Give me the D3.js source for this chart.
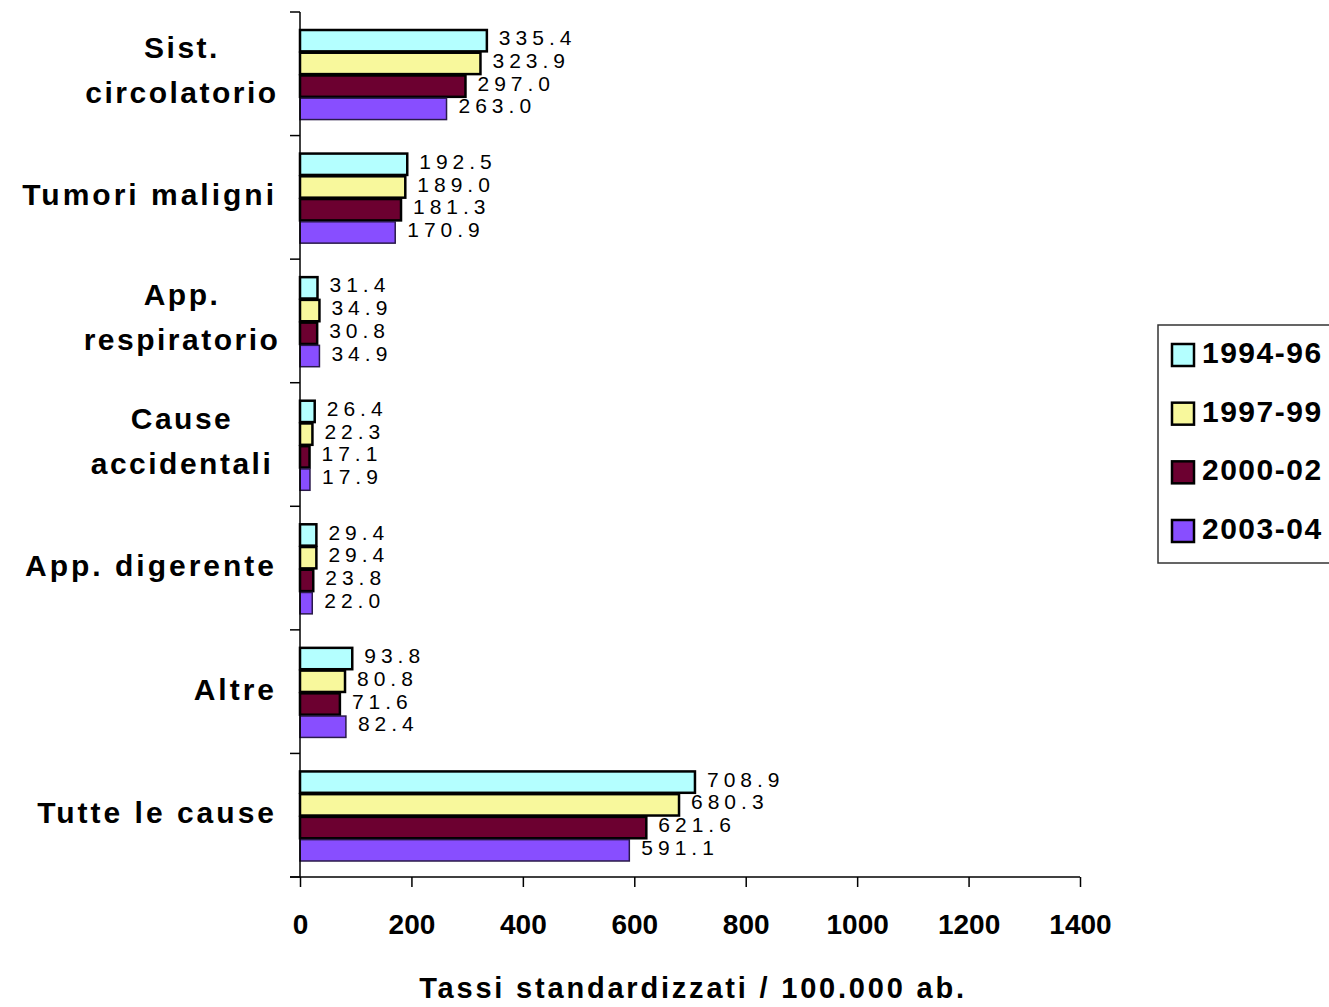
<!DOCTYPE html>
<html>
<head>
<meta charset="utf-8">
<script src="https://cdn.jsdelivr.net/npm/d3@7"></script>
<style>
  html, body { margin: 0; padding: 0; background: #fff; }
  svg { display: block; }
  text { font-family: "Liberation Sans", Arial, sans-serif; fill: #000; }
</style>
</head>
<body>
<svg id="chart" width="1329" height="1007"></svg>
<script>
// Cause di morte: tassi standardizzati per periodo
const categories = [
  ["Sist.", "circolatorio"],
  ["Tumori maligni"],
  ["App.", "respiratorio"],
  ["Cause", "accidentali"],
  ["App. digerente"],
  ["Altre"],
  ["Tutte le cause"]
];
const periods = ["1994-96", "1997-99", "2000-02", "2003-04"];
const values1994 = [335.4, 192.5, 31.4, 26.4, 29.4, 93.8, 708.9];
const values1997 = [323.9, 189.0, 34.9, 22.3, 29.4, 80.8, 680.3];
const values2000 = [297.0, 181.3, 30.8, 17.1, 23.8, 71.6, 621.6];
const values2003 = [263.0, 170.9, 34.9, 17.9, 22.0, 82.4, 591.1];
const xTicks = [0, 200, 400, 600, 800, 1000, 1200, 1400];
const xTitle = "Tassi standardizzati / 100.000 ab.";

const seriesValues = [values1994, values1997, values2000, values2003];
const colors = ["#B4FFFF", "#F8F89C", "#6C0030", "#884EFF"];
const strokes = [2.5, 2.5, 2.5, 1.5];

const svg = d3.select("#chart");
const catKeys = categories.map((c, i) => i);

const x = d3.scaleLinear().domain([0, 1400]).range([300, 1080]);
const y0 = d3.scaleBand().domain(catKeys).range([12, 877]).padding(0);
const y1 = d3.scaleBand().domain(d3.range(periods.length))
  .range([18, y0.bandwidth() - 16]).paddingInner(0.06);

// Bars with value labels
const groups = svg.append("g").selectAll("g")
  .data(catKeys).join("g")
  .attr("transform", d => `translate(0,${y0(d)})`);

groups.each(function(ci) {
  const g = d3.select(this);
  periods.forEach((p, si) => {
    const v = seriesValues[si][ci];
    g.append("rect")
      .attr("x", x(0))
      .attr("y", y1(si))
      .attr("width", x(v) - x(0))
      .attr("height", y1.bandwidth())
      .attr("fill", colors[si])
      .attr("stroke", si === 3 ? "#2a1a4a" : "#000")
      .attr("stroke-width", strokes[si]);
    g.append("text")
      .attr("x", x(v) + 12)
      .attr("y", y1(si) + y1.bandwidth() / 2 - 1)
      .attr("dominant-baseline", "middle")
      .attr("font-size", 21)
      .attr("letter-spacing", 5)
      .text(v.toFixed(1));
  });
});

// Y axis: line with ticks at band boundaries
const yAxisG = svg.append("g");
yAxisG.append("line")
  .attr("x1", 300).attr("x2", 300)
  .attr("y1", 12).attr("y2", 877)
  .attr("stroke", "#000").attr("stroke-width", 1.5);
const boundaries = catKeys.map(d => y0(d)).concat([877]);
yAxisG.selectAll("line.tick").data(boundaries).join("line")
  .attr("class", "tick")
  .attr("x1", 290).attr("x2", 300)
  .attr("y1", d => d).attr("y2", d => d)
  .attr("stroke", "#000").attr("stroke-width", 1.5);

// Category labels
const catLabels = svg.append("g");
catKeys.forEach(ci => {
  const lines = categories[ci];
  const cy = y0(ci) + y0.bandwidth() / 2;
  if (lines.length === 1) {
    catLabels.append("text")
      .attr("x", 277)
      .attr("y", cy)
      .attr("text-anchor", "end")
      .attr("dominant-baseline", "middle")
      .attr("font-size", 30)
      .attr("font-weight", "bold")
      .attr("letter-spacing", 3)
      .text(lines[0]);
  } else {
    lines.forEach((t, li) => {
      catLabels.append("text")
        .attr("x", 182)
        .attr("y", cy + (li - 0.5) * 45 - 1)
        .attr("text-anchor", "middle")
        .attr("dominant-baseline", "middle")
        .attr("font-size", 30)
        .attr("font-weight", "bold")
        .attr("letter-spacing", 2.5)
        .text(t);
    });
  }
});

// X axis
const xAxis = d3.axisBottom(x).tickValues(xTicks).tickSize(10).tickPadding(27)
  .tickFormat(d3.format("d"));
const xg = svg.append("g")
  .attr("transform", "translate(0,877)")
  .call(xAxis);
xg.select(".domain").attr("d", "M290,0H1080").attr("stroke", "#000").attr("stroke-width", 1.5);
xg.selectAll(".tick line").attr("stroke", "#000").attr("stroke-width", 1.5);
xg.selectAll(".tick text")
  .attr("font-size", 28)
  .attr("font-weight", "bold")
  .attr("font-family", "'Liberation Sans', Arial, sans-serif")
  .attr("fill", "#000");

svg.append("text")
  .attr("x", 693)
  .attr("y", 990)
  .attr("text-anchor", "middle")
  .attr("dominant-baseline", "middle")
  .attr("font-size", 29)
  .attr("font-weight", "bold")
  .attr("letter-spacing", 2.8)
  .text(xTitle);

// Legend
const legend = svg.append("g");
legend.append("rect")
  .attr("x", 1158).attr("y", 325)
  .attr("width", 200).attr("height", 238)
  .attr("fill", "#fff").attr("stroke", "#333").attr("stroke-width", 1.5);
const legendY = d3.scalePoint().domain(d3.range(periods.length)).range([355, 531]);
periods.forEach((p, si) => {
  legend.append("rect")
    .attr("x", 1172).attr("y", legendY(si) - 11)
    .attr("width", 22).attr("height", 22)
    .attr("fill", colors[si]).attr("stroke", "#000").attr("stroke-width", 2.5);
  legend.append("text")
    .attr("x", 1202).attr("y", legendY(si))
    .attr("dominant-baseline", "middle")
    .attr("font-size", 30)
    .attr("font-weight", "bold")
    .attr("letter-spacing", 1.5)
    .text(p);
});
</script>
</body>
</html>
